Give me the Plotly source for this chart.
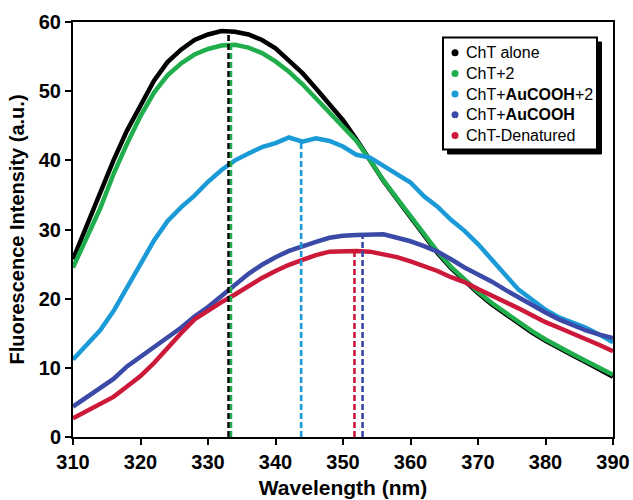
import plotly.graph_objects as go

wavelength = list(range(310, 391, 2))

cht_alone = [25.7, 30.5, 35.0, 40.0, 44.3, 48.0, 51.5, 54.2, 56.0, 57.4,
             58.2, 58.7, 58.6, 58.2, 57.4, 56.2, 54.5, 52.6, 50.4, 48.2,
             45.8, 43.0, 40.0, 37.0, 34.4, 31.8, 29.2, 26.6, 24.4, 22.5,
             20.8, 19.2, 17.8, 16.4, 15.1, 13.9, 12.8, 11.8, 10.8, 9.7, 8.7]

cht_2 = [24.5, 28.6, 33.0, 38.0, 42.4, 46.4, 49.8, 52.3, 54.0, 55.3,
         56.1, 56.6, 56.7, 56.3, 55.5, 54.3, 52.8, 51.0, 49.0, 47.0,
         45.0, 42.8, 40.0, 37.1, 34.5, 31.9, 29.3, 26.8, 24.6, 22.7,
         21.0, 19.4, 18.0, 16.6, 15.3, 14.1, 13.0, 12.0, 11.0, 10.0, 9.0]

cht_au_2 = [11.2, 13.2, 15.4, 18.2, 21.6, 25.3, 28.4, 31.2, 33.2, 34.9,
            36.9, 38.6, 40.0, 41.0, 41.9, 42.5, 43.3, 42.7, 43.2, 42.8,
            42.0, 40.8, 40.4, 39.2, 38.0, 36.8, 34.8, 33.3, 31.4, 29.8,
            27.9, 25.6, 23.5, 21.3, 19.8, 18.4, 17.3, 16.6, 15.8, 14.8, 13.7]

cht_au = [4.4, 5.7, 7.0, 8.4, 10.2, 11.6, 13.0, 14.3, 15.8, 17.4,
          18.8, 20.4, 22.0, 23.6, 24.9, 26.0, 26.9, 27.6, 28.2, 28.8,
          29.1, 29.2, 29.3, 29.3, 28.8, 28.3, 27.6, 26.8, 25.7, 24.5,
          23.5, 22.5, 21.3, 20.2, 19.0, 18.0, 17.0, 16.2, 15.4, 14.8, 14.3]

cht_denat = [2.7, 3.7, 4.7, 5.8, 7.3, 8.8, 10.7, 12.9, 15.0, 17.0,
             18.3, 19.5, 20.6, 21.8, 23.0, 24.0, 24.9, 25.6, 26.3, 26.8,
             26.9, 26.9, 26.8, 26.4, 26.0, 25.4, 24.7, 24.0, 23.1, 22.4,
             21.4, 20.5, 19.6, 18.6, 17.6, 16.6, 15.8, 15.0, 14.2, 13.3, 12.4]

series_names = ["ChT alone", "ChT+2", "ChT+<b>AuCOOH</b>+2",
                "ChT+<b>AuCOOH</b>", "ChT-Denatured"]
series_values = [cht_alone, cht_2, cht_au_2, cht_au, cht_denat]
series_colors = ["#000000", "#1fae4b", "#1b9ad8", "#3b4aa6", "#cc1839"]

peak_wl = [333.05, 333.4, 343.8, 352.9, 351.7]
peak_val = [58.8, 56.7, 42.6, 29.2, 26.9]

x_ticks = list(range(310, 391, 10))
y_ticks = list(range(0, 61, 10))

FONT = "Arial, Liberation Sans, Helvetica, sans-serif"

# plot-area geometry (pixels) used only to place the legend box
L, R, T, B = 73, 613, 22, 437
PW, PH = R - L, B - T


def px(xp):
    return (xp - L) / PW


def py(yp):
    return (B - yp) / PH


fig = go.Figure()

# data curves
for name, vals, col in zip(series_names, series_values, series_colors):
    fig.add_trace(go.Scatter(x=wavelength, y=vals, mode="lines",
                             line=dict(color=col, width=4.5),
                             showlegend=False, name=name))

# peak markers (dashed verticals)
for wl, pv, col in zip(peak_wl, peak_val, series_colors):
    fig.add_trace(go.Scatter(x=[wl, wl], y=[0, pv], mode="lines",
                             line=dict(color=col, width=2.6, dash="6px,3px"),
                             showlegend=False, hoverinfo="skip"))

# legend: shadow, box, dots and labels
box_l, box_r, box_t, box_b = 443, 597, 37.5, 149.5
fig.add_shape(type="rect", xref="paper", yref="paper",
              x0=px(box_l + 4.5), x1=px(box_r + 4.5), y0=py(box_b + 4.5), y1=py(box_t + 4.5),
              fillcolor="black", line=dict(color="black", width=1), layer="above")
fig.add_shape(type="rect", xref="paper", yref="paper",
              x0=px(box_l), x1=px(box_r), y0=py(box_b), y1=py(box_t),
              fillcolor="white", line=dict(color="black", width=2), layer="above")
row_y = [52.7, 73.4, 94.1, 114.8, 135.5]
for name, col, ry in zip(series_names, series_colors, row_y):
    fig.add_shape(type="circle", xref="paper", yref="paper",
                  xsizemode="pixel", ysizemode="pixel",
                  xanchor=px(455), yanchor=py(ry),
                  x0=-3.5, x1=3.5, y0=-3.5, y1=3.5,
                  fillcolor=col, line=dict(width=0), layer="above")
    fig.add_annotation(xref="paper", yref="paper", x=px(464), y=py(ry),
                       xanchor="left", yanchor="middle", showarrow=False,
                       text=name, font=dict(family=FONT, size=16, color="black"))

fig.update_layout(
    width=633, height=500,
    margin=dict(l=L, r=633 - R, t=T, b=500 - B),
    paper_bgcolor="white", plot_bgcolor="white",
    font=dict(family=FONT, color="black"),
    showlegend=False,
    xaxis=dict(range=[310, 390], tickvals=x_ticks, ticktext=[str(t) for t in x_ticks],
               automargin=False, showgrid=False, zeroline=False,
               showline=True, linecolor="black", linewidth=2, mirror=True,
               ticks="outside", ticklen=6, tickwidth=2, tickcolor="black",
               tickfont=dict(family=FONT, size=20, weight="bold", color="black"),
               title=dict(text="Wavelength (nm)", standoff=8,
                          font=dict(family=FONT, size=21, weight="bold", color="black"))),
    yaxis=dict(range=[0, 60], tickvals=y_ticks, ticktext=[str(t) for t in y_ticks],
               automargin=False, showgrid=False, zeroline=False,
               showline=True, linecolor="black", linewidth=2, mirror=True,
               ticks="outside", ticklen=6, tickwidth=2, tickcolor="black",
               tickfont=dict(family=FONT, size=20, weight="bold", color="black"),
               title=dict(text="Fluorescence Intensity (a.u.)", standoff=9,
                          font=dict(family=FONT, size=20, weight="bold", color="black"))),
)

fig.write_html("out.html", config={"displayModeBar": False},
               post_script="document.body.style.margin='0';document.body.style.padding='0';")
